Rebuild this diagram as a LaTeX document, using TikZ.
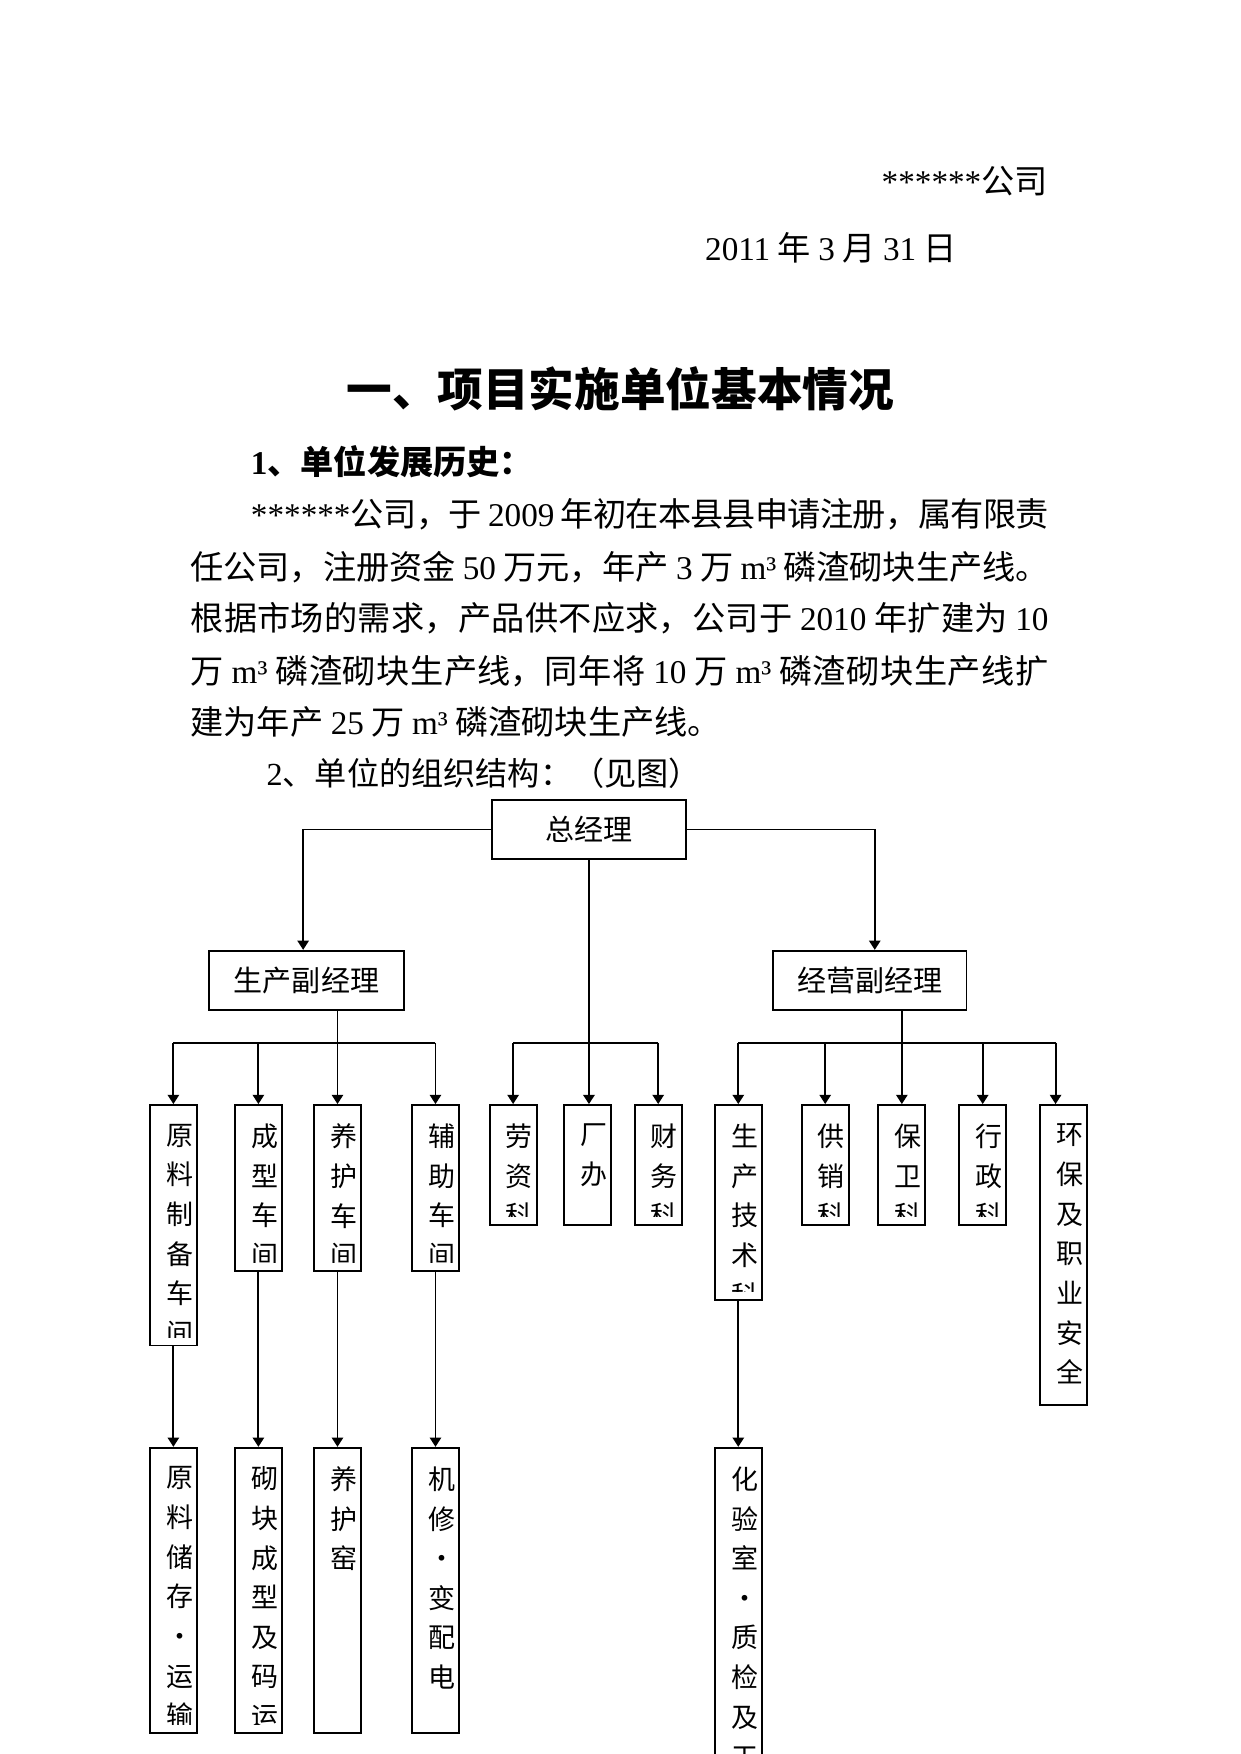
\documentclass[tikz,border=0pt]{standalone}
\usepackage{fontspec}
\setmainfont{Noto Sans CJK SC}
\newfontfamily\latinfont{Liberation Serif}
\newcommand\lat[1]{{\latinfont #1}}
\newcommand\flushend{\parfillskip 0pt\relax}
\usetikzlibrary{arrows.meta}
\XeTeXlinebreaklocale "zh"
\XeTeXlinebreakskip=0pt plus 2pt minus 0.8pt

\tikzset{
  txt/.style={inner sep=0pt},
  jline/.style={anchor=base west, inner sep=0pt, text width=#1, align=justify,
    font=\fontsize{16}{20}\selectfont, execute at begin node=\flushend},
  hbox/.style={draw, line width=0.9pt, minimum height=28.6pt, inner sep=0pt,
    font=\fontsize{14}{16}\selectfont},
  vbox/.style={draw, line width=0.9pt, minimum width=22.6pt, inner sep=0pt, anchor=north,
    path picture={
      \clip ([yshift=4pt]path picture bounding box.south west) rectangle (path picture bounding box.north east);
      \node[draw=none, minimum width=0pt, minimum height=0pt, anchor=north, align=center,
        inner sep=0pt, font=\fontsize{13}{19.1}\selectfont]
        at ([xshift=3pt,yshift=-8.7pt]path picture bounding box.north) {#1};}},
  bar/.style={line width=0.9pt},
  link/.style={line width=0.5pt},
  drop/.style={line width=0.9pt, -{Triangle[width=5.5pt,length=4.5pt]}},
}

\begin{document}
\begin{tikzpicture}[x=0.5391pt, y=-0.5391pt]
\useasboundingbox (0,0) rectangle (1109,1568);
\clip (0,0) rectangle (1109,1568);

% text of the page
\node[txt, anchor=base east, font=\fontsize{16}{20}\selectfont] (gs) at (937,173) {\lat{******}公司};
\node[txt, anchor=base west, font=\fontsize{16}{20}\selectfont] (rq) at (630,233) {\lat{2011} 年 \lat{3} 月 \lat{31} 日};
\node[txt, anchor=base, font=\fontsize{22}{26}\selectfont\bfseries] (bt) at (554.5,363) {一、项目实施单位基本情况};
\node[txt, anchor=base west, font=\fontsize{16}{20}\selectfont\bfseries] (h1) at (224,424) {{\latinfont\bfseries 1}、单位发展历史：};
\node[jline=384.4pt] (p1) at (224,471) {\lat{******}公司，于 \lat{2009} 年初在本县县申请注册，属有限责};
\node[jline=413.5pt] (p2) at (170,518) {任公司，注册资金 \lat{50} 万元，年产 \lat{3} 万 \lat{m³} 磷渣砌块生产线。};
\node[jline=413.5pt] (p3) at (170,564) {根据市场的需求，产品供不应求，公司于 \lat{2010} 年扩建为 \lat{10}};
\node[jline=413.5pt] (p4) at (170,611) {万 \lat{m³} 磷渣砌块生产线，同年将 \lat{10} 万 \lat{m³} 磷渣砌块生产线扩};
\node[txt, anchor=base west, font=\fontsize{16}{20}\selectfont] (p5) at (170,657) {建为年产 \lat{25} 万 \lat{m³} 磷渣砌块生产线。};
\node[txt, anchor=base west, font=\fontsize{15.5}{18}\selectfont] (h2) at (238,702.5) {\lat{2}、单位的组织结构：（见图）};

% managers
\node[hbox, minimum width=93.3pt] (zjl) at (526.5,741.5) {总经理};
\node[hbox, minimum width=93.8pt] (scfjl) at (274,876.5) {生产副经理};
\node[hbox, minimum width=93.3pt] (jyfjl) at (777.5,876.5) {经营副经理};

% departments
\node[vbox={原\\料\\制\\备\\车\\间}, minimum height=115.9pt] (yl) at (155,987) {};
\node[vbox={成\\型\\车\\间}, minimum height=79.8pt] (cx) at (231,987) {};
\node[vbox={养\\护\\车\\间}, minimum height=79.8pt] (yh) at (301.7,987) {};
\node[vbox={辅\\助\\车\\间}, minimum height=79.8pt] (fz) at (389.3,987) {};
\node[vbox={劳\\资\\科}, minimum height=57.7pt] (lz) at (458.7,987) {};
\node[vbox={厂\\办}, minimum height=57.7pt] (cb) at (525,987) {};
\node[vbox={财\\务\\科}, minimum height=57.7pt] (cw) at (588.4,987) {};
\node[vbox={生\\产\\技\\术\\科}, minimum height=93.8pt] (scjs) at (660,987) {};
\node[vbox={供\\销\\科}, minimum height=57.7pt] (gx) at (737.7,987) {};
\node[vbox={保\\卫\\科}, minimum height=57.7pt] (bw) at (806.2,987) {};
\node[vbox={行\\政\\科}, minimum height=57.7pt] (xz) at (878.5,987) {};
\node[vbox={环\\保\\及\\职\\业\\安\\全}, minimum height=144.5pt] (hb) at (950.5,987) {};

% sections
\node[vbox={原\\料\\储\\存\\•\\运\\输}, minimum height=137.5pt] (ylcc) at (155,1293.4) {};
\node[vbox={砌\\块\\成\\型\\及\\码\\运}, minimum height=137.5pt] (qk) at (231,1293.4) {};
\node[vbox={养\\护\\窑}, minimum height=137.5pt] (yhy) at (301.7,1293.4) {};
\node[vbox={机\\修\\•\\变\\配\\电}, minimum height=137.5pt] (jx) at (389.3,1293.4) {};
\node[vbox={化\\验\\室\\•\\质\\检\\及\\工}, minimum height=200pt] (hys) at (660,1293.4) {};

% connectors
\coordinate (lk) at (271,741.5);
\coordinate (rk) at (782,741.5);
\coordinate (hbtop) at ([xshift=-3.7pt]hb.north);
\draw[link] (zjl.west) -- (lk);
\draw[drop] (lk) -- (lk |- scfjl.north);
\draw[link] (zjl.east) -- (rk);
\draw[drop] (rk) -- (rk |- jyfjl.north);
\draw[drop, line width=1.3pt] (zjl.south) -- (zjl.south |- cb.north);

\draw[drop] (scfjl.south -| yh.north) -- (yh.north);
\draw[bar] (yl.north |- 0,932) -- (fz.north |- 0,932);
\foreach \n in {yl,cx,fz}
  \draw[drop] (\n.north |- 0,932) -- (\n.north);

\draw[bar] (lz.north |- 0,932) -- (cw.north |- 0,932);
\foreach \n in {lz,cw}
  \draw[drop] (\n.north |- 0,932) -- (\n.north);

\draw[drop] (jyfjl.south -| bw.north) -- (bw.north);
\draw[bar] (scjs.north |- 0,932) -- (hbtop |- 0,932);
\foreach \n in {scjs,gx,xz}
  \draw[drop] (\n.north |- 0,932) -- (\n.north);
\draw[drop] (hbtop |- 0,932) -- (hbtop);

\foreach \a/\b in {yl/ylcc,cx/qk,yh/yhy,fz/jx,scjs/hys}
  \draw[drop] (\a.south) -- (\b.north);
\end{tikzpicture}
\end{document}
